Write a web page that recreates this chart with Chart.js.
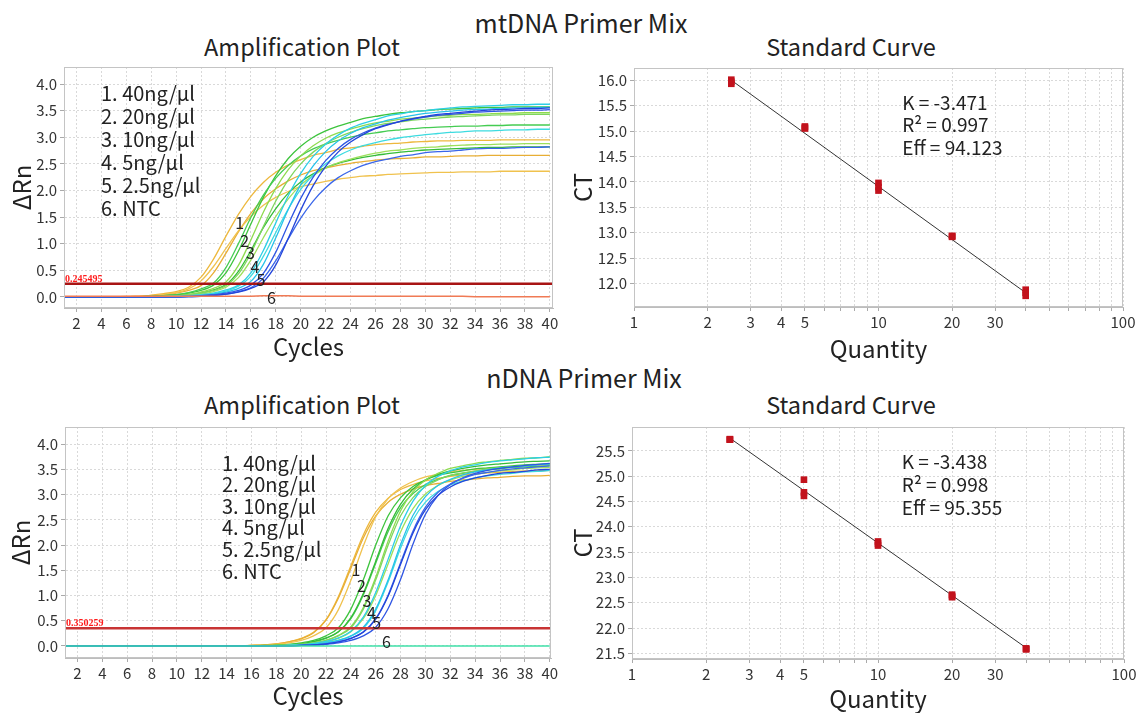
<!DOCTYPE html>
<html>
<head>
<meta charset="utf-8">
<script src="https://cdn.jsdelivr.net/npm/chart.js@4.4.1/dist/chart.umd.min.js"></script>
<style>
  body { margin:0; background:#fff; width:1136px; height:713px; position:relative; overflow:hidden;
         font-family:"Noto Sans CJK SC","Noto Sans",sans-serif; color:#222; }
  .t { position:absolute; transform:translate(-50%,-50%); white-space:nowrap; }
  canvas { position:absolute; }
</style>
</head>
<body>
<div class="t" style="left:581px;top:22px;font-size:25px">mtDNA Primer Mix</div>
<div class="t" style="left:302px;top:46px;font-size:23.5px">Amplification Plot</div>
<div class="t" style="left:851px;top:46px;font-size:23.5px">Standard Curve</div>
<div class="t" style="left:584px;top:377px;font-size:25px">nDNA Primer Mix</div>
<div class="t" style="left:302px;top:404px;font-size:23.5px">Amplification Plot</div>
<div class="t" style="left:851px;top:404px;font-size:23.5px">Standard Curve</div>

<canvas id="mtAmp" width="568" height="305" style="left:0;top:60px"></canvas>
<canvas id="mtStd" width="568" height="305" style="left:568px;top:60px"></canvas>
<canvas id="nAmp" width="568" height="293" style="left:0;top:420px"></canvas>
<canvas id="nStd" width="568" height="293" style="left:568px;top:420px"></canvas>

<script>
// --- daten ---
var cycles = [1,2,3,4,5,6,7,8,9,10,11,12,13,14,15,16,17,18,19,20,21,22,23,24,25,26,27,28,29,30,31,32,33,34,35,36,37,38,39,40];
var cycleTicks = [2,4,6,8,10,12,14,16,18,20,22,24,26,28,30,32,34,36,38,40];
var dRnTicks = [0,0.5,1,1.5,2,2.5,3,3.5,4];
var qtyTicks = [1,2,3,4,5,6,7,8,9,10,20,30,40,50,60,70,80,90,100];
var qtyLabels = [1,2,3,4,5,10,20,30,100];
var mtCtTicks = [12,12.5,13,13.5,14,14.5,15,15.5,16];
var nCtTicks = [21.5,22,22.5,23,23.5,24,24.5,25,25.5];
var legendText = ['1. 40ng/μl','2. 20ng/μl','3. 10ng/μl','4. 5ng/μl','5. 2.5ng/μl','6. NTC'];

var mtThreshold = 0.245495;
var nThreshold = 0.350259;

// mtDNA amplification (ΔRn per cycle)
var mt40a = [0,0,0,0,0,0.01,0.01,0.03,0.06,0.10,0.18,0.37,0.71,1.14,1.55,1.89,2.15,2.34,2.48,2.58,2.66,2.71,2.77,2.80,2.83,2.86,2.88,2.89,2.91,2.92,2.93,2.93,2.94,2.94,2.94,2.95,2.95,2.95,2.95,2.95];
var mt40b = [0,0,0,0,0,0,0.01,0.02,0.03,0.07,0.12,0.21,0.45,0.82,1.22,1.57,1.84,2.03,2.18,2.29,2.37,2.42,2.47,2.51,2.54,2.57,2.59,2.60,2.61,2.63,2.63,2.64,2.65,2.65,2.66,2.66,2.66,2.66,2.66,2.66];
var mt40c = [0,0,0,0,0,0,0.01,0.02,0.04,0.08,0.15,0.30,0.57,0.91,1.24,1.51,1.72,1.87,1.98,2.07,2.12,2.17,2.21,2.24,2.27,2.28,2.30,2.31,2.32,2.33,2.34,2.34,2.35,2.35,2.35,2.36,2.36,2.36,2.36,2.36];
var mt20a = [0,0,0,0,0,0,0,0.01,0.02,0.04,0.07,0.12,0.22,0.45,0.86,1.37,1.87,2.28,2.60,2.83,3.00,3.12,3.21,3.28,3.35,3.39,3.43,3.46,3.48,3.50,3.52,3.53,3.54,3.55,3.56,3.56,3.57,3.57,3.57,3.57];
var mt20b = [0,0,0,0,0,0,0,0.01,0.02,0.04,0.08,0.15,0.26,0.55,1.00,1.49,1.91,2.23,2.47,2.65,2.78,2.87,2.94,3.00,3.05,3.08,3.12,3.14,3.16,3.18,3.19,3.20,3.21,3.21,3.22,3.22,3.23,3.23,3.23,3.23];
var mt20c = [0,0,0,0,0,0,0,0,0.01,0.02,0.04,0.07,0.13,0.23,0.48,0.87,1.30,1.66,1.95,2.16,2.31,2.43,2.51,2.57,2.62,2.66,2.69,2.72,2.74,2.76,2.77,2.78,2.79,2.80,2.81,2.81,2.82,2.82,2.82,2.82];
var mt10a = [0,0,0,0,0,0,0,0,0.01,0.02,0.04,0.09,0.16,0.28,0.59,1.07,1.59,2.04,2.39,2.65,2.84,2.98,3.08,3.15,3.22,3.27,3.30,3.34,3.36,3.38,3.40,3.41,3.43,3.43,3.44,3.45,3.45,3.46,3.46,3.46];
var mt10b = [0,0,0,0,0,0,0,0,0.01,0.02,0.03,0.07,0.12,0.21,0.43,0.82,1.32,1.80,2.20,2.50,2.72,2.88,3.00,3.09,3.16,3.22,3.26,3.29,3.32,3.34,3.36,3.38,3.39,3.40,3.41,3.42,3.42,3.43,3.43,3.43];
var mt10c = [0,0,0,0,0,0,0,0,0.01,0.01,0.03,0.05,0.10,0.18,0.36,0.69,1.11,1.51,1.84,2.10,2.28,2.42,2.52,2.59,2.65,2.70,2.74,2.76,2.79,2.81,2.82,2.84,2.85,2.86,2.86,2.87,2.87,2.88,2.88,2.88];
var mt5a = [0,0,0,0,0,0,0,0,0,0.01,0.02,0.04,0.07,0.13,0.22,0.45,0.87,1.39,1.90,2.32,2.64,2.87,3.04,3.17,3.26,3.33,3.40,3.44,3.48,3.50,3.53,3.55,3.57,3.58,3.59,3.60,3.61,3.61,3.62,3.62];
var mt5b = [0,0,0,0,0,0,0,0,0,0.01,0.02,0.03,0.06,0.11,0.20,0.39,0.76,1.21,1.65,2.02,2.29,2.50,2.65,2.76,2.84,2.90,2.95,2.99,3.02,3.05,3.07,3.09,3.10,3.12,3.12,3.13,3.14,3.14,3.15,3.15];
var mt5c = [0,0,0,0,0,0,0,0,0,0,0.01,0.02,0.05,0.09,0.16,0.29,0.61,1.11,1.64,2.11,2.46,2.73,2.93,3.07,3.18,3.25,3.32,3.37,3.41,3.45,3.47,3.49,3.51,3.52,3.53,3.54,3.55,3.55,3.56,3.56];
var mt2a = [0,0,0,0,0,0,0,0,0,0,0.01,0.02,0.04,0.07,0.12,0.22,0.44,0.84,1.36,1.85,2.25,2.56,2.79,2.96,3.08,3.17,3.24,3.30,3.34,3.38,3.41,3.43,3.45,3.47,3.48,3.49,3.50,3.51,3.51,3.52];
var mt2b = [0,0,0,0,0,0,0,0,0,0,0.01,0.01,0.03,0.05,0.10,0.17,0.35,0.68,1.09,1.48,1.80,2.05,2.24,2.37,2.47,2.54,2.59,2.64,2.67,2.71,2.73,2.74,2.76,2.78,2.79,2.79,2.80,2.81,2.81,2.82];
var mt2c = [0,0,0,0,0,0,0,0,0,0,0,0.01,0.02,0.05,0.09,0.16,0.28,0.60,1.10,1.63,2.09,2.45,2.72,2.91,3.05,3.16,3.23,3.30,3.35,3.39,3.43,3.45,3.47,3.49,3.51,3.52,3.53,3.54,3.54,3.55];
var mtNTC = [0.01,0.01,0.01,0.01,0.01,0.01,0.01,0.01,0.01,0.01,0.01,0.01,0.01,0.01,0.01,0.01,0.02,0.02,0.02,0.01,0.01,0.01,0.01,0.01,0.01,0.01,0.01,0.01,0.01,0.01,0.01,0.01,0.01,0,0,0,0,0,0,0];

// nDNA amplification
var n40a = [0,0,0,0,0,0,0,0,0,0,0,0,0,0,0,0.01,0.02,0.04,0.08,0.15,0.27,0.52,0.98,1.59,2.20,2.65,2.93,3.10,3.20,3.27,3.32,3.36,3.39,3.41,3.43,3.44,3.46,3.47,3.47,3.48];
var n40b = [0,0,0,0,0,0,0,0,0,0,0,0,0,0,0,0.01,0.02,0.04,0.08,0.14,0.26,0.51,0.95,1.54,2.14,2.58,2.85,3.01,3.11,3.18,3.22,3.26,3.29,3.31,3.33,3.34,3.36,3.37,3.37,3.38];
var n40c = [0,0,0,0,0,0,0,0,0,0,0,0,0,0,0,0.01,0.01,0.03,0.06,0.11,0.20,0.36,0.72,1.30,1.98,2.56,2.92,3.13,3.26,3.35,3.40,3.45,3.48,3.50,3.52,3.54,3.56,3.57,3.58,3.59];
var n20a = [0,0,0,0,0,0,0,0,0,0,0,0,0,0,0,0,0.01,0.01,0.03,0.06,0.11,0.20,0.36,0.73,1.31,2.00,2.58,2.94,3.16,3.29,3.38,3.43,3.47,3.51,3.53,3.55,3.57,3.59,3.60,3.61];
var n20b = [0,0,0,0,0,0,0,0,0,0,0,0,0,0,0,0,0,0.01,0.02,0.04,0.08,0.15,0.28,0.54,1.01,1.64,2.27,2.74,3.02,3.20,3.30,3.38,3.42,3.46,3.49,3.51,3.54,3.55,3.56,3.57];
var n20c = [0,0,0,0,0,0,0,0,0,0,0,0,0,0,0,0,0,0.01,0.02,0.04,0.09,0.16,0.28,0.56,1.04,1.68,2.33,2.81,3.11,3.29,3.40,3.47,3.52,3.56,3.59,3.61,3.63,3.65,3.66,3.67];
var n10a = [0,0,0,0,0,0,0,0,0,0,0,0,0,0,0,0,0,0.01,0.02,0.03,0.06,0.11,0.21,0.38,0.76,1.36,2.08,2.68,3.06,3.29,3.42,3.52,3.57,3.62,3.65,3.68,3.70,3.72,3.73,3.75];
var n10b = [0,0,0,0,0,0,0,0,0,0,0,0,0,0,0,0,0,0.01,0.01,0.03,0.06,0.11,0.20,0.36,0.73,1.31,2.00,2.58,2.94,3.16,3.29,3.38,3.43,3.47,3.51,3.53,3.55,3.57,3.59,3.60];
var n10c = [0,0,0,0,0,0,0,0,0,0,0,0,0,0,0,0,0,0,0.01,0.02,0.04,0.08,0.15,0.28,0.54,1.00,1.63,2.26,2.72,3.01,3.18,3.29,3.36,3.40,3.44,3.47,3.49,3.52,3.53,3.54];
var n5a = [0,0,0,0,0,0,0,0,0,0,0,0,0,0,0,0,0,0,0.01,0.02,0.05,0.09,0.16,0.29,0.57,1.06,1.72,2.38,2.87,3.18,3.36,3.47,3.55,3.59,3.64,3.67,3.69,3.71,3.73,3.74];
var n5b = [0,0,0,0,0,0,0,0,0,0,0,0,0,0,0,0,0,0,0.01,0.01,0.03,0.06,0.11,0.19,0.35,0.70,1.27,1.94,2.50,2.85,3.06,3.19,3.27,3.33,3.37,3.40,3.42,3.45,3.46,3.48];
var n5c = [0,0,0,0,0,0,0,0,0,0,0,0,0,0,0,0,0,0,0.01,0.01,0.03,0.06,0.11,0.20,0.37,0.73,1.31,2.01,2.59,2.96,3.18,3.30,3.39,3.45,3.49,3.53,3.55,3.57,3.59,3.61];
var n2a = [0,0,0,0,0,0,0,0,0,0,0,0,0,0,0,0,0,0,0,0.01,0.01,0.03,0.06,0.11,0.20,0.37,0.74,1.32,2.02,2.61,2.98,3.20,3.33,3.42,3.48,3.52,3.55,3.58,3.60,3.62];
var n2b = [0,0,0,0,0,0,0,0,0,0,0,0,0,0,0,0,0,0,0,0.01,0.02,0.04,0.08,0.15,0.28,0.54,1.01,1.65,2.28,2.75,3.04,3.21,3.32,3.40,3.44,3.48,3.51,3.53,3.55,3.57];
var n2c = [0,0,0,0,0,0,0,0,0,0,0,0,0,0,0,0,0,0,0,0.01,0.02,0.04,0.08,0.15,0.27,0.53,0.99,1.62,2.24,2.70,2.98,3.15,3.26,3.33,3.38,3.42,3.44,3.46,3.49,3.50];
var nNTC = [0,0,0,0,0,0,0,0,0,0,0,0,0,0,0,0,0,0,0,0,0,0,0,0,0,0,0,0,0,0,0,0,0,0,0,0,0,0,0,0];

// standard curves
var stdQty = [2.5,2.5,2.5,5,5,5,10,10,10,20,20,20,40,40,40];
var mtCt = [16.01,15.97,15.93,15.09,15.07,15.05,13.98,13.90,13.83,12.94,12.93,12.92,11.88,11.82,11.76];
var nCt  = [25.73,25.72,25.72,24.93,24.68,24.61,23.71,23.67,23.63,22.66,22.63,22.61,21.60,21.59,21.58];
var fitQty = [2.5,40];
var mtFitCt = [16.0,11.82];
var nFitCt = [25.75,21.61];
var mtStats = ['K = -3.471','R\u00B2 = 0.997','Eff = 94.123'];
var nStats  = ['K = -3.438','R\u00B2 = 0.998','Eff = 95.355'];

// kolory
var yel = ['#EDB83D','#E8AE35','#F0C24E'];
var grn = ['#3DC43D','#45CC52','#36BC38'];
var lim = ['#8EDB4F','#7ED65E','#9CE05A'];
var cya = ['#2DCFE6','#3DDBE0','#27C2EA'];
var blu = ['#2F55E3','#3A66EA','#2445DA'];

Chart.defaults.font.family = '"Noto Sans CJK SC","Noto Sans",sans-serif';
Chart.defaults.color = '#333';

function pts(xs, ys) {
  return ys.map(function (v, i) { return {x: xs[i], y: v}; });
}

// obwódka + napisy
function deco(cfg) {
  return {
    id: 'deco',
    afterDatasetsDraw: function (chart) {
      var ctx = chart.ctx, a = chart.chartArea, x = chart.scales.x, y = chart.scales.y;
      ctx.save();
      ctx.strokeStyle = '#c4c4c4';
      ctx.lineWidth = 1;
      ctx.strokeRect(a.left + 0.5, a.top + 0.5, a.width - 1, a.height - 1);
      ctx.fillStyle = '#222';
      ctx.textBaseline = 'middle';
      ctx.textAlign = 'left';
      if (cfg.legend) {
        ctx.font = '20px "Noto Sans CJK SC"';
        cfg.legend.forEach(function (t, i) {
          ctx.fillText(t, a.left + cfg.lx, a.top + cfg.ly + i * cfg.dy);
        });
      }
      if (cfg.marks) {
        ctx.font = '16px "Noto Sans CJK SC"';
        ctx.textAlign = 'center';
        cfg.marks.forEach(function (m, i) {
          ctx.fillText(String(i + 1), x.getPixelForValue(m[0]), y.getPixelForValue(m[1]));
        });
      }
      if (cfg.thr != null) {
        ctx.font = 'bold 10px "Liberation Serif"';
        ctx.fillStyle = '#ff1c1c';
        ctx.textAlign = 'left';
        ctx.textBaseline = 'alphabetic';
        ctx.fillText(cfg.thr.toFixed(6), a.left + 1, y.getPixelForValue(cfg.thr) - 2);
      }
      if (cfg.stats) {
        ctx.font = '19px "Noto Sans CJK SC"';
        ctx.fillStyle = '#222';
        var sx = x.getPixelForValue(cfg.sx), sy = y.getPixelForValue(cfg.sy);
        cfg.stats.forEach(function (t, i) { ctx.fillText(t, sx, sy + i * cfg.sdy); });
      }
      ctx.restore();
    }
  };
}

function ampChart(id, curves, colors, ntc, ntcColor, thr, thrColor, box, cfg) {
  var sets = [{
    data: [{x: 1, y: thr}, {x: box.xmax, y: thr}],
    borderColor: thrColor, borderWidth: 2.5, pointRadius: 0
  }, {
    data: pts(cycles, ntc), borderColor: ntcColor, borderWidth: 1.5, pointRadius: 0
  }];
  for (var i = curves.length - 1; i >= 0; i--) {
    sets.push({ data: pts(cycles, curves[i]), borderColor: colors[i], borderWidth: 1.3,
                pointRadius: 0, cubicInterpolationMode: 'monotone' });
  }
  return new Chart(document.getElementById(id), {
    type: 'line',
    data: { datasets: sets },
    options: {
      responsive: false, animation: false,
      layout: { padding: { left: 0, right: box.pr, top: box.pt, bottom: 0 } },
      plugins: { legend: { display: false }, tooltip: { enabled: false } },
      scales: {
        x: {
          type: 'linear', min: 1, max: box.xmax,
          afterBuildTicks: function (s) { s.ticks = cycleTicks.map(function (v) { return {value: v}; }); },
          afterFit: function (s) { s.height = box.xh; s.paddingLeft = 0; s.paddingRight = 0; },
          ticks: { autoSkip: false, maxRotation: 0, padding: 2, font: { size: 15 }, color: '#333' },
          grid: { color: '#d9d9d9', tickLength: 4, tickColor: '#aaa' },
          border: { color: '#bdbdbd', dash: [2, 2] },
          title: { display: true, text: 'Cycles', font: { size: 24 }, color: '#222', padding: { top: 0, bottom: box.tb } }
        },
        y: {
          type: 'linear', min: box.ymin, max: box.ymax,
          afterBuildTicks: function (s) { s.ticks = dRnTicks.map(function (v) { return {value: v}; }); },
          afterFit: function (s) { s.width = box.yw; s.paddingTop = 0; s.paddingBottom = 0; },
          ticks: { padding: 3, font: { size: 15 }, color: '#333', callback: function (v) { return v.toFixed(1); } },
          grid: { color: '#d9d9d9', tickLength: 4, tickColor: '#aaa' },
          border: { color: '#bdbdbd', dash: [2, 2] },
          title: { display: true, text: '\u0394Rn', font: { size: 24 }, color: '#222', padding: { top: box.tl, bottom: 0 } }
        }
      }
    },
    plugins: [deco(cfg)]
  });
}

function stdChart(id, ct, fitCt, ticks, box, cfg) {
  return new Chart(document.getElementById(id), {
    data: {
      datasets: [{
        type: 'scatter', data: pts(stdQty, ct), pointStyle: 'rect', pointRadius: 4.7,
        backgroundColor: '#C2121C', borderColor: '#C2121C', borderWidth: 0
      }, {
        type: 'line', data: pts(fitQty, fitCt), borderColor: '#333', borderWidth: 1, pointRadius: 0
      }]
    },
    options: {
      responsive: false, animation: false,
      layout: { padding: { left: 0, right: box.pr, top: box.pt, bottom: 0 } },
      plugins: { legend: { display: false }, tooltip: { enabled: false } },
      scales: {
        x: {
          type: 'logarithmic', min: 1, max: 100,
          afterBuildTicks: function (s) { s.ticks = qtyTicks.map(function (v) { return {value: v}; }); },
          afterFit: function (s) { s.height = box.xh; s.paddingLeft = 0; s.paddingRight = 0; },
          ticks: { autoSkip: false, maxRotation: 0, padding: 2, font: { size: 15 }, color: '#333',
                   callback: function (v) { return qtyLabels.indexOf(v) >= 0 ? String(v) : ''; } },
          grid: { color: '#d9d9d9', tickLength: 4, tickColor: '#aaa' },
          border: { color: '#bdbdbd', dash: [2, 2] },
          title: { display: true, text: 'Quantity', font: { size: 24 }, color: '#222', padding: { top: 0, bottom: box.tb } }
        },
        y: {
          type: 'linear', min: box.ymin, max: box.ymax,
          afterBuildTicks: function (s) { s.ticks = ticks.map(function (v) { return {value: v}; }); },
          afterFit: function (s) { s.width = box.yw; s.paddingTop = 0; s.paddingBottom = 0; },
          ticks: { padding: 3, font: { size: 15 }, color: '#333', callback: function (v) { return v.toFixed(1); } },
          grid: { color: '#d9d9d9', tickLength: 4, tickColor: '#aaa' },
          border: { color: '#bdbdbd', dash: [2, 2] },
          title: { display: true, text: 'CT', font: { size: 24 }, color: '#222', padding: { top: box.tl, bottom: 0 } }
        }
      }
    },
    plugins: [deco(cfg)]
  });
}

// rysowanie
ampChart('mtAmp',
  [mt40a, mt40b, mt40c, mt20a, mt20b, mt20c, mt10a, mt10b, mt10c, mt5a, mt5b, mt5c, mt2a, mt2b, mt2c],
  yel.concat(grn, lim, cya, blu), mtNTC, '#F07A55', mtThreshold, '#A81414',
  { xmax: 40.25, ymin: -0.21, ymax: 4.32, yw: 64, xh: 57, pr: 15, pt: 7, tb: 4, tl: 7 },
  { legend: legendText, lx: 37, ly: 26, dy: 23, thr: mtThreshold,
    marks: [[15.1, 1.38], [15.5, 1.06], [15.96, 0.82], [16.32, 0.56], [16.8, 0.31], [17.66, -0.02]] });

stdChart('mtStd', mtCt, mtFitCt, mtCtTicks,
  { ymin: 11.54, ymax: 16.24, yw: 66, xh: 58, pr: 13, pt: 8, tb: 2, tl: 0 },
  { stats: mtStats, sx: 12.5, sy: 15.56, sdy: 22.5 });

ampChart('nAmp',
  [n40a, n40b, n40c, n20a, n20b, n20c, n10a, n10b, n10c, n5a, n5b, n5c, n2a, n2b, n2c],
  yel.concat(grn, lim, cya, blu), nNTC, '#3FE0A8', nThreshold, '#C83434',
  { xmax: 40.1, ymin: -0.24, ymax: 4.34, yw: 65, xh: 55, pr: 17, pt: 7, tb: 3, tl: 6 },
  { legend: legendText, lx: 157, ly: 36, dy: 21.6, thr: nThreshold,
    marks: [[24.4, 1.5], [24.85, 1.19], [25.3, 0.9], [25.66, 0.66], [26.07, 0.46], [26.87, 0.085]] });

stdChart('nStd', nCt, nFitCt, nCtTicks,
  { ymin: 21.39, ymax: 25.97, yw: 64, xh: 54, pr: 12, pt: 7, tb: 0, tl: 0 },
  { stats: nStats, sx: 12.5, sy: 25.28, sdy: 23 });
</script>
</body>
</html>
